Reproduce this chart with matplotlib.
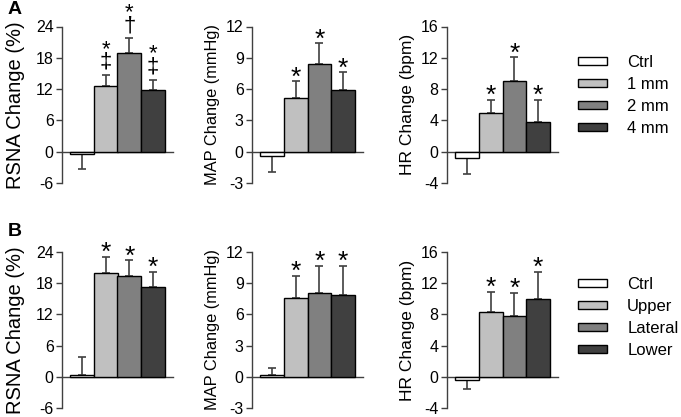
import matplotlib
matplotlib.use('Agg')
import matplotlib.pyplot as plt

plt.rcParams['font.family'] = ['Liberation Sans', 'DejaVu Sans']
plt.rcParams['axes.unicode_minus'] = False

# data
colors = ['white', '#c0c0c0', '#808080', '#404040']
labels_a = ['Ctrl', '1 mm', '2 mm', '4 mm']
labels_b = ['Ctrl', 'Upper', 'Lateral', 'Lower']

rsna_a = [-0.35, 12.5, 19.0, 11.9]
rsna_a_err = [2.95, 2.2, 2.7, 1.9]
map_a = [-0.4, 5.1, 8.4, 5.9]
map_a_err = [1.5, 1.65, 2.0, 1.7]
hr_a = [-0.85, 5.0, 9.05, 3.8]
hr_a_err = [1.95, 1.65, 3.0, 2.85]

rsna_b = [0.3, 19.9, 19.4, 17.3]
rsna_b_err = [3.6, 3.2, 3.0, 2.9]
map_b = [0.22, 7.6, 8.1, 7.9]
map_b_err = [0.6, 2.1, 2.6, 2.8]
hr_b = [-0.42, 8.3, 7.75, 10.0]
hr_b_err = [1.2, 2.6, 3.05, 3.5]

stars = ['', '*', '*', '*']
daggers_a = ['', '\u2021', '\u2020', '\u2021']
no_daggers = ['', '', '', '']

rsna_ticks = [-6, 0, 6, 12, 18, 24]
map_ticks = [-3, 0, 3, 6, 9, 12]
hr_ticks = [-4, 0, 4, 8, 12, 16]

W, H = 681, 417
fig = plt.figure(figsize=(W / 100, H / 100), dpi=100)
axc = '#404040'


def panel(left, bottom, height, vals, errs, ticks, ylabel, lsize, lpad, daggers):
    ax = fig.add_axes([left / W, bottom, 111 / W, height])
    x = range(len(vals))
    bars = ax.bar(x, vals, width=1.0, color=colors, edgecolor='black',
                  linewidth=1.0, zorder=3)
    lo = [e if v < 0 else 0 for v, e in zip(vals, errs)]
    hi = [0 if v < 0 else e for v, e in zip(vals, errs)]
    ax.errorbar(x, vals, yerr=[lo, hi], fmt='none', ecolor=axc,
                elinewidth=1.2, capsize=2.9, capthick=1.2, zorder=2)
    for i, v in enumerate(vals):
        if v < 0 or not stars[i]:
            continue
        top = v + errs[i]
        if daggers[i]:
            # star stacked over the dagger in one text
            ax.annotate(stars[i] + '\n' + daggers[i], (i, top), xytext=(0, 1.5),
                        textcoords='offset points', ha='center', va='bottom',
                        fontsize=16, linespacing=0.5, color='black')
        else:
            ax.annotate(stars[i], (i, top), xytext=(0, -6),
                        textcoords='offset points', ha='center', va='bottom',
                        fontsize=19, color='black')
    ax.set_xlim(-0.5 - 8 / 23.75, 3.5 + 8 / 23.75)
    ax.set_ylim(ticks[0], ticks[-1])
    ax.set_yticks(ticks)
    ax.set_xticks([])
    ax.spines['top'].set_visible(False)
    ax.spines['right'].set_visible(False)
    ax.spines['bottom'].set_position(('data', 0))
    for s in ('left', 'bottom'):
        ax.spines[s].set_color(axc)
        ax.spines[s].set_linewidth(1.0)
    ax.tick_params(axis='y', direction='out', length=4, width=1.0,
                   color=axc, labelsize=11.5, pad=2)
    ax.set_ylabel(ylabel, fontsize=lsize, labelpad=lpad)
    ax.patch.set_alpha(0)
    return bars


bot_a, h_a = 1 - 183 / H, (183 - 26.5) / H
bot_b, h_b = 1 - 408 / H, (408 - 252) / H

bars_a = panel(62, bot_a, h_a, rsna_a, rsna_a_err, rsna_ticks, 'RSNA Change (%)', 14.5, 8, daggers_a)
panel(252, bot_a, h_a, map_a, map_a_err, map_ticks, 'MAP Change (mmHg)', 11.8, 4.5, no_daggers)
panel(447, bot_a, h_a, hr_a, hr_a_err, hr_ticks, 'HR Change (bpm)', 12.5, 4.5, no_daggers)

bars_b = panel(62, bot_b, h_b, rsna_b, rsna_b_err, rsna_ticks, 'RSNA Change (%)', 14.5, 8, no_daggers)
panel(252, bot_b, h_b, map_b, map_b_err, map_ticks, 'MAP Change (mmHg)', 11.8, 4.5, no_daggers)
panel(447, bot_b, h_b, hr_b, hr_b_err, hr_ticks, 'HR Change (bpm)', 12.5, 4.5, no_daggers)

for bars, labels, yc in ((bars_a, labels_a, 95.5), (bars_b, labels_b, 317.5)):
    fig.legend(bars, labels, loc='center left', bbox_to_anchor=(578 / W, 1 - yc / H),
               frameon=False, fontsize=12, handlelength=1.75, handleheight=0.42,
               handletextpad=1.2, labelspacing=0.42, borderpad=0, borderaxespad=0)

fig.text(8 / W, 1 - 10 / H, 'A', fontsize=14, fontweight='bold', va='center')
fig.text(8 / W, 1 - 232 / H, 'B', fontsize=14, fontweight='bold', va='center')

fig.savefig('out.png', dpi=100)
